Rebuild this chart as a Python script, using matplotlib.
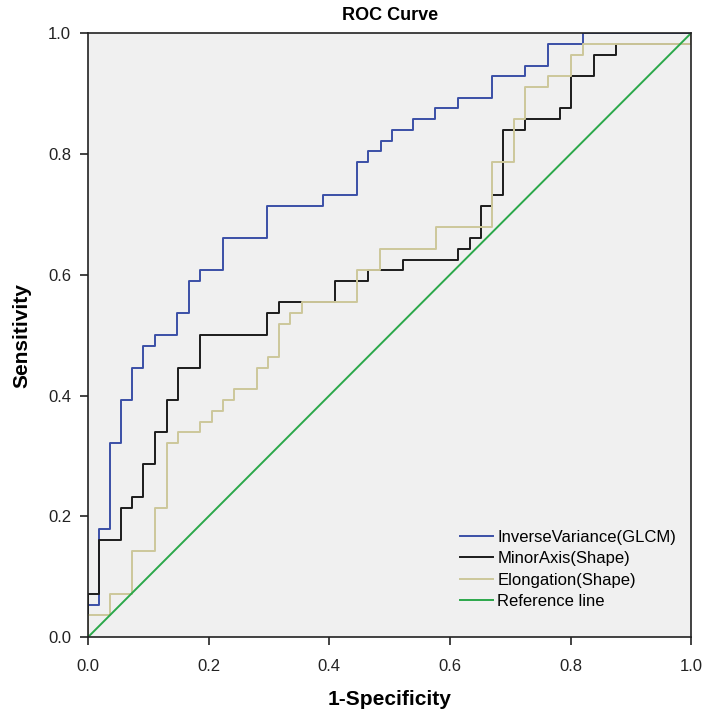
import matplotlib
matplotlib.use("Agg")
import matplotlib.pyplot as plt

plt.rcParams['font.family'] = ['Liberation Sans', 'DejaVu Sans']

# ROC step points (1-specificity, sensitivity)
inv_var_x = [0, 0, 0.018, 0.036, 0.055, 0.073, 0.091, 0.111, 0.148, 0.168, 0.186, 0.224, 0.297,
             0.39, 0.446, 0.465, 0.485, 0.504, 0.539, 0.576, 0.614, 0.669, 0.725, 0.762, 0.82, 1.0]
inv_var_y = [0, 0.054, 0.179, 0.321, 0.393, 0.446, 0.482, 0.5, 0.536, 0.589, 0.607, 0.661, 0.714,
             0.732, 0.786, 0.804, 0.821, 0.839, 0.857, 0.875, 0.893, 0.929, 0.946, 0.982, 1.0, 1.0]

minor_x = [0, 0, 0.018, 0.055, 0.073, 0.091, 0.111, 0.131, 0.149, 0.186, 0.297, 0.317, 0.409,
           0.465, 0.523, 0.614, 0.633, 0.652, 0.67, 0.688, 0.725, 0.782, 0.801, 0.838, 0.875, 1.0]
minor_y = [0, 0.071, 0.161, 0.214, 0.232, 0.286, 0.339, 0.393, 0.446, 0.5, 0.536, 0.554, 0.589,
           0.607, 0.625, 0.643, 0.661, 0.714, 0.732, 0.839, 0.857, 0.875, 0.929, 0.964, 0.982, 1.0]

elong_x = [0, 0, 0.036, 0.073, 0.111, 0.131, 0.149, 0.186, 0.205, 0.224, 0.242, 0.28, 0.298,
           0.317, 0.335, 0.354, 0.446, 0.484, 0.577, 0.67, 0.707, 0.725, 0.762, 0.801, 0.82, 1.0]
elong_y = [0, 0.036, 0.071, 0.143, 0.214, 0.321, 0.339, 0.357, 0.375, 0.393, 0.411, 0.446, 0.464,
           0.518, 0.536, 0.554, 0.607, 0.643, 0.679, 0.786, 0.857, 0.911, 0.929, 0.964, 0.982, 1.0]

ref_x = [0, 1]
ref_y = [0, 1]

labels = ["InverseVariance(GLCM)", "MinorAxis(Shape)", "Elongation(Shape)", "Reference line"]
colors = ["#3b4fa6", "#1c1c1c", "#cdc79a", "#2ba84a"]
ticks = [0.0, 0.2, 0.4, 0.6, 0.8, 1.0]

fig = plt.figure(figsize=(7.09, 7.16), dpi=100)
ax = fig.add_axes([0.124, 0.110, 0.851, 0.844])
ax.set_facecolor("#f0f0f0")

ax.plot(inv_var_x, inv_var_y, drawstyle='steps-post', color=colors[0], lw=1.4, label=labels[0])
ax.plot(minor_x, minor_y, drawstyle='steps-post', color=colors[1], lw=1.4, label=labels[1])
ax.plot(elong_x, elong_y, drawstyle='steps-post', color=colors[2], lw=1.4, label=labels[2])
ax.plot(ref_x, ref_y, color=colors[3], lw=1.4, label=labels[3])

ax.set_xlim(0, 1)
ax.set_ylim(0, 1)
ax.set_xticks(ticks)
ax.set_yticks(ticks)
ax.set_xticklabels([f"{t:.1f}" for t in ticks])
ax.set_yticklabels([f"{t:.1f}" for t in ticks])
ax.tick_params(direction='out', length=6, width=1.2, labelsize=12, colors='#222222')
ax.tick_params(axis='x', pad=10)
ax.tick_params(axis='y', pad=6)
for s in ax.spines.values():
    s.set_color('#222222')
    s.set_linewidth(1.2)

ax.set_title("ROC Curve", fontsize=13, fontweight='bold', pad=9)
ax.set_xlabel("1-Specificity", fontsize=15, fontweight='bold', labelpad=11)
ax.set_ylabel("Sensitivity", fontsize=15, fontweight='bold', labelpad=12)

leg = ax.legend(loc='lower right', bbox_to_anchor=(1.0, 0.022), frameon=False, fontsize=12,
                handlelength=2.0, handletextpad=0.25, labelspacing=0.38)

fig.savefig("out.png", dpi=100)
